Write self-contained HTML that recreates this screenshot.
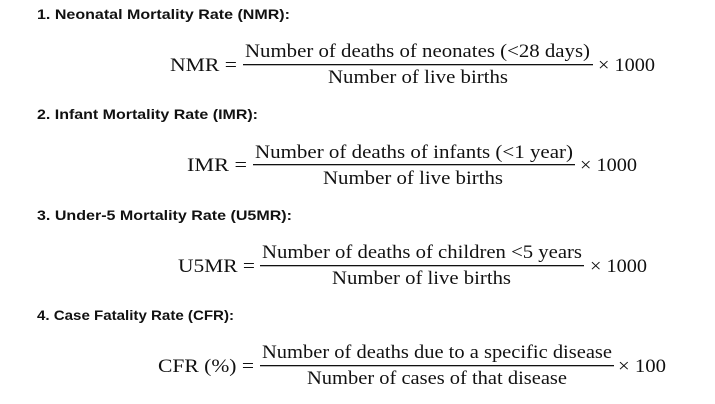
<!DOCTYPE html>
<html><head><meta charset="utf-8"><style>
html,body{margin:0;padding:0;background:#fff;}
svg{display:block}
.h{font-family:"Liberation Sans",sans-serif;font-weight:bold;font-size:14px;fill:#111}
.m{font-family:"Liberation Serif",serif;font-size:19px;fill:#111}
</style></head><body>
<svg width="715" height="404" viewBox="0 0 715 404">
<text class="h" x="37" y="19" textLength="253" lengthAdjust="spacingAndGlyphs">1.  Neonatal Mortality Rate (NMR):</text>
<text class="m" x="170" y="71" textLength="67" lengthAdjust="spacingAndGlyphs">NMR =</text>
<text class="m" x="245" y="57" textLength="345" lengthAdjust="spacingAndGlyphs">Number of deaths of neonates (&lt;28 days)</text>
<rect x="243" y="64" width="350" height="1.3" fill="#111"/>
<text class="m" x="328" y="83" textLength="180" lengthAdjust="spacingAndGlyphs">Number of live births</text>
<text class="m" x="598" y="71" textLength="57" lengthAdjust="spacingAndGlyphs">× 1000</text>

<text class="h" x="37" y="119" textLength="221" lengthAdjust="spacingAndGlyphs">2.  Infant Mortality Rate (IMR):</text>
<text class="m" x="187" y="171" textLength="60" lengthAdjust="spacingAndGlyphs">IMR =</text>
<text class="m" x="255" y="158" textLength="318" lengthAdjust="spacingAndGlyphs">Number of deaths of infants (&lt;1 year)</text>
<rect x="253" y="164" width="322" height="1.3" fill="#111"/>
<text class="m" x="323" y="184" textLength="180" lengthAdjust="spacingAndGlyphs">Number of live births</text>
<text class="m" x="580" y="171" textLength="57" lengthAdjust="spacingAndGlyphs">× 1000</text>

<text class="h" x="37" y="220" textLength="255" lengthAdjust="spacingAndGlyphs">3.  Under-5 Mortality Rate (U5MR):</text>
<text class="m" x="178" y="272" textLength="77" lengthAdjust="spacingAndGlyphs">U5MR =</text>
<text class="m" x="262" y="258" textLength="320" lengthAdjust="spacingAndGlyphs">Number of deaths of children &lt;5 years</text>
<rect x="260" y="265" width="324" height="1.3" fill="#111"/>
<text class="m" x="332" y="284" textLength="179" lengthAdjust="spacingAndGlyphs">Number of live births</text>
<text class="m" x="590" y="272" textLength="57" lengthAdjust="spacingAndGlyphs">× 1000</text>

<text class="h" x="37" y="320" textLength="197" lengthAdjust="spacingAndGlyphs">4.  Case Fatality Rate (CFR):</text>
<text class="m" x="158" y="372" textLength="96" lengthAdjust="spacingAndGlyphs">CFR (%) =</text>
<text class="m" x="262" y="358" textLength="350" lengthAdjust="spacingAndGlyphs">Number of deaths due to a specific disease</text>
<rect x="260" y="365" width="354" height="1.3" fill="#111"/>
<text class="m" x="307" y="384" textLength="260" lengthAdjust="spacingAndGlyphs">Number of cases of that disease</text>
<text class="m" x="618" y="372" textLength="48" lengthAdjust="spacingAndGlyphs">× 100</text>
</svg>
</body></html>
